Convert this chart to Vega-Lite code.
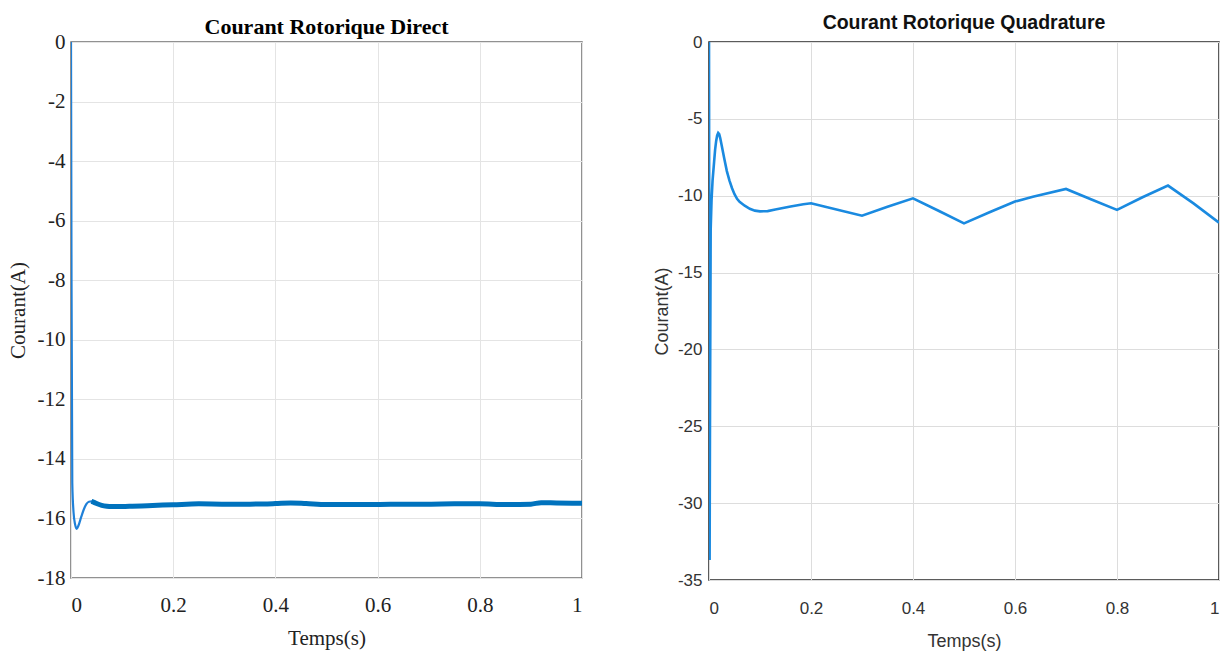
{
  "$schema": "https://vega.github.io/schema/vega-lite/v6.json",
  "background": "white",
  "padding": {"left": 6, "top": 11, "right": 8, "bottom": 4},
  "spacing": 127,
  "bounds": "flush",
  "config": {
    "view": {"stroke": null},
    "locale": {"number": {"decimal": ".", "thousands": ",", "grouping": [3], "currency": ["$", ""], "minus": "-"}}
  },
  "datasets": {
    "direct": [
      {"t": 0, "v": 0},
      {"t": 0.001, "v": -8},
      {"t": 0.0025, "v": -14.8},
      {"t": 0.005, "v": -15.8},
      {"t": 0.008, "v": -16.2},
      {"t": 0.011, "v": -16.35},
      {"t": 0.015, "v": -16.22},
      {"t": 0.02, "v": -15.95},
      {"t": 0.025, "v": -15.7},
      {"t": 0.03, "v": -15.52},
      {"t": 0.035, "v": -15.44},
      {"t": 0.04, "v": -15.43},
      {"t": 0.045, "v": -15.46},
      {"t": 0.05, "v": -15.5},
      {"t": 0.06, "v": -15.56},
      {"t": 0.07, "v": -15.59},
      {"t": 0.08, "v": -15.6},
      {"t": 0.1, "v": -15.6},
      {"t": 0.12, "v": -15.59},
      {"t": 0.15, "v": -15.57},
      {"t": 0.2, "v": -15.54},
      {"t": 0.25, "v": -15.51},
      {"t": 0.3, "v": -15.52},
      {"t": 0.35, "v": -15.52},
      {"t": 0.4, "v": -15.5},
      {"t": 0.43, "v": -15.48},
      {"t": 0.46, "v": -15.5},
      {"t": 0.5, "v": -15.53},
      {"t": 0.55, "v": -15.53},
      {"t": 0.6, "v": -15.53},
      {"t": 0.65, "v": -15.52},
      {"t": 0.7, "v": -15.52},
      {"t": 0.75, "v": -15.51},
      {"t": 0.8, "v": -15.51},
      {"t": 0.85, "v": -15.53},
      {"t": 0.9, "v": -15.52},
      {"t": 0.92, "v": -15.47},
      {"t": 0.95, "v": -15.48},
      {"t": 1.0, "v": -15.49}
    ],
    "quad": [
      {"t": 0, "v": 0},
      {"t": 0.0012, "v": -33.7},
      {"t": 0.002, "v": -24},
      {"t": 0.0033, "v": -12.2},
      {"t": 0.005, "v": -10.3},
      {"t": 0.007, "v": -9.0},
      {"t": 0.01, "v": -7.8},
      {"t": 0.012, "v": -7.0},
      {"t": 0.014, "v": -6.45},
      {"t": 0.016, "v": -6.08},
      {"t": 0.018, "v": -5.92},
      {"t": 0.02, "v": -6.0},
      {"t": 0.022, "v": -6.25},
      {"t": 0.025, "v": -6.75},
      {"t": 0.03, "v": -7.6},
      {"t": 0.035, "v": -8.4},
      {"t": 0.04, "v": -9.0},
      {"t": 0.045, "v": -9.5},
      {"t": 0.05, "v": -9.9},
      {"t": 0.055, "v": -10.2},
      {"t": 0.06, "v": -10.4},
      {"t": 0.07, "v": -10.65},
      {"t": 0.08, "v": -10.85},
      {"t": 0.09, "v": -10.97},
      {"t": 0.1, "v": -11.02},
      {"t": 0.115, "v": -11.0},
      {"t": 0.13, "v": -10.9},
      {"t": 0.16, "v": -10.7},
      {"t": 0.185, "v": -10.55},
      {"t": 0.2, "v": -10.49},
      {"t": 0.25, "v": -10.9},
      {"t": 0.3, "v": -11.3},
      {"t": 0.35, "v": -10.72},
      {"t": 0.4, "v": -10.17},
      {"t": 0.45, "v": -10.98},
      {"t": 0.5, "v": -11.8},
      {"t": 0.55, "v": -11.08},
      {"t": 0.6, "v": -10.38},
      {"t": 0.635, "v": -10.06},
      {"t": 0.7, "v": -9.56},
      {"t": 0.75, "v": -10.25},
      {"t": 0.8, "v": -10.92},
      {"t": 0.85, "v": -10.1},
      {"t": 0.9, "v": -9.34},
      {"t": 0.95, "v": -10.5},
      {"t": 1.0, "v": -11.75}
    ]
  },
  "hconcat": [
    {
      "width": 511,
      "height": 536,
      "title": {"text": "Courant Rotorique Direct", "font": "Liberation Serif", "fontSize": 22, "fontWeight": "bold", "color": "black", "offset": -8, "anchor": "middle"},
      "view": {"stroke": "#6e6e6e", "strokeWidth": 1.5},
      "data": {"name": "direct"},
      "encoding": {
        "x": {
          "field": "t", "type": "quantitative",
          "scale": {"domain": [0, 1], "nice": false, "zero": false},
          "axis": {
            "values": [0, 0.2, 0.4, 0.6, 0.8, 1], "format": "~g",
            "title": "Temps(s)", "titleFont": "Liberation Serif", "titleFontSize": 21, "titleFontWeight": "normal", "titleColor": "#222", "titlePadding": 12,
            "labelFont": "Liberation Serif", "labelFontSize": 21, "labelColor": "#222", "labelPadding": 16,
            "ticks": false, "domain": false, "grid": true, "gridColor": "#e4e4e4", "gridWidth": 1
          }
        },
        "y": {
          "field": "v", "type": "quantitative",
          "scale": {"domain": [-18, 0], "nice": false, "zero": false},
          "axis": {
            "values": [0, -2, -4, -6, -8, -10, -12, -14, -16, -18], "format": "~g",
            "title": "Courant(A)", "titleFont": "Liberation Serif", "titleFontSize": 21, "titleFontWeight": "normal", "titleColor": "#222", "titlePadding": 9,
            "labelFont": "Liberation Serif", "labelFontSize": 21, "labelColor": "#222", "labelPadding": 6,
            "ticks": false, "domain": false, "grid": true, "gridColor": "#e4e4e4", "gridWidth": 1
          }
        }
      },
      "layer": [
        {"mark": {"type": "line", "color": "#1f80d8", "strokeWidth": 2.2, "clip": true, "interpolate": "monotone"}},
        {"transform": [{"filter": "datum.t >= 0.04"}], "mark": {"type": "line", "color": "#0072BD", "strokeWidth": 5, "clip": true, "interpolate": "monotone"}}
      ]
    },
    {
      "width": 510,
      "height": 538,
      "title": {"text": "Courant Rotorique Quadrature", "font": "Liberation Sans", "fontSize": 19.5, "fontWeight": "bold", "color": "#111", "offset": 0, "anchor": "middle"},
      "view": {"stroke": "#262626", "strokeWidth": 1.5},
      "data": {"name": "quad"},
      "encoding": {
        "x": {
          "field": "t", "type": "quantitative",
          "scale": {"domain": [0, 1], "nice": false, "zero": false},
          "axis": {
            "values": [0, 0.2, 0.4, 0.6, 0.8, 1], "format": "~g",
            "title": "Temps(s)", "titleFont": "Liberation Sans", "titleFontSize": 18, "titleFontWeight": "normal", "titleColor": "#333", "titlePadding": 16,
            "labelFont": "Liberation Sans", "labelFontSize": 17, "labelColor": "#333", "labelPadding": 20,
            "ticks": false, "domain": false, "grid": true, "gridColor": "#dddddd", "gridWidth": 1
          }
        },
        "y": {
          "field": "v", "type": "quantitative",
          "scale": {"domain": [-35, 0], "nice": false, "zero": false},
          "axis": {
            "values": [0, -5, -10, -15, -20, -25, -30, -35], "format": "~g",
            "title": "Courant(A)", "titleFont": "Liberation Sans", "titleFontSize": 18, "titleFontWeight": "normal", "titleColor": "#333", "titlePadding": 6,
            "labelFont": "Liberation Sans", "labelFontSize": 17, "labelColor": "#333", "labelPadding": 7,
            "ticks": false, "domain": false, "grid": true, "gridColor": "#dddddd", "gridWidth": 1
          }
        }
      },
      "layer": [
        {"mark": {"type": "line", "color": "#1a8ae0", "strokeWidth": 2.6, "clip": true}}
      ]
    }
  ]
}
